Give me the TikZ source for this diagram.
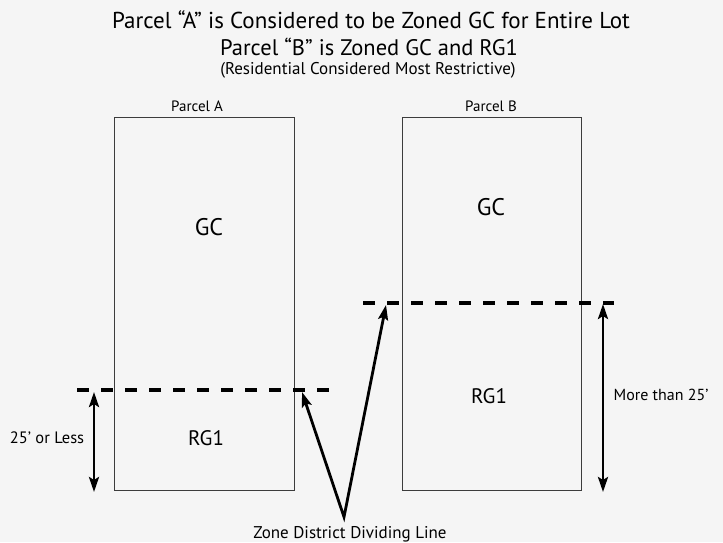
\documentclass[tikz,border=0pt]{standalone}
\usepackage{fontspec}
\setmainfont{PT Sans}
\usetikzlibrary{arrows.meta}
\definecolor{bgc}{RGB}{245,245,245}
\definecolor{boxc}{RGB}{60,60,60}
\tikzset{
  lbl/.style={anchor=base, inner sep=0pt, font=\fontsize{15}{18}\selectfont},
  zone/.style={anchor=base, inner sep=0pt, font=\fontsize{21}{24}\selectfont},
  parcel/.style={draw=boxc, line width=1pt},
  divider/.style={line width=4pt, dash pattern=on 12pt off 12pt},
  dim/.style={line width=2.8pt, {Stealth[length=15pt,width=10pt,inset=3pt]}-{Stealth[length=15pt,width=10pt,inset=3pt]}},
  pointer/.style={line width=2.8pt, miter limit=20, {Stealth[length=15pt,width=10pt,inset=3pt]}-{Stealth[length=15pt,width=10pt,inset=3pt]}}
}
\begin{document}
\begin{tikzpicture}[x=1pt,y=-1pt]
\fill[bgc] (0,0) rectangle (723,542);
\useasboundingbox (0,0) rectangle (723,542);
% titles
\node[anchor=base, inner sep=0pt, font=\fontsize{23}{26}\selectfont] (t1) at (371,28) {Parcel “A” is Considered to be Zoned GC for Entire Lot};
\node[anchor=base, inner sep=0pt, font=\fontsize{22.5}{26}\selectfont] (t2) at (369,55) {Parcel “B” is Zoned GC and RG1};
\node[anchor=base, inner sep=0pt, font=\fontsize{17}{20}\selectfont] (t3) at (368,74) {(Residential Considered Most Restrictive)};
% parcels
\draw[parcel] (114,117) rectangle (294,490);
\draw[parcel] (402,117) rectangle (581,490);
\node[lbl] (pa) at (197,111) {Parcel A};
\node[lbl] (pb) at (491,111) {Parcel B};
\node[zone, font=\fontsize{24}{26}\selectfont] (gca) at (209,235) {GC};
\node[zone, font=\fontsize{24}{26}\selectfont] (gcb) at (491,215) {GC};
\node[zone] (rga) at (206,445) {RG1};
\node[zone] (rgb) at (489,403) {RG1};
% dividing lines
\coordinate (da1) at (77,390);
\coordinate (da2) at (329,390);
\coordinate (db1) at (363,302.5);
\coordinate (db2) at (614,302.5);
\draw[divider] (da1) -- (da2);
\draw[divider] (db1) -- (db2);
% dimensions
\coordinate (ua) at (94,392);
\coordinate (la) at (94,492);
\coordinate (ub) at (603,304);
\coordinate (lb) at (603,492);
\draw[dim] (ua) -- (la);
\draw[dim] (ub) -- (lb);
\node[lbl, font=\fontsize{16.5}{18}\selectfont] (lessl) at (47,443) {25’ or Less};
\node[lbl, font=\fontsize{16}{18}\selectfont] (morel) at (661,400) {More than 25’};
% pointers
\coordinate (tipa) at (302,392);
\coordinate (tipb) at (386,305);
\coordinate (apex) at (344,517);
\draw[pointer] (tipa) -- (apex) -- (tipb);
\node[lbl, font=\fontsize{17}{18}\selectfont] (zlbl) at (350,538) {Zone District Dividing Line};
\end{tikzpicture}
\end{document}
